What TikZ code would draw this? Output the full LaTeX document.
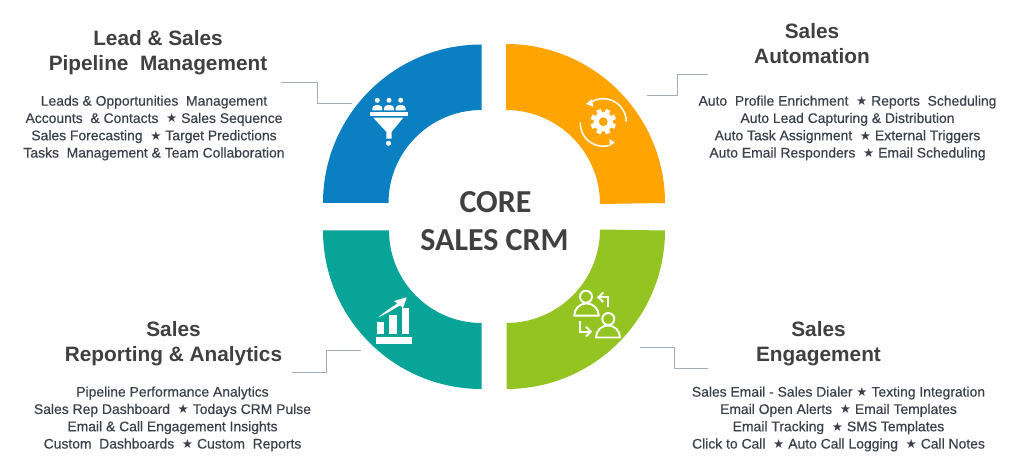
\documentclass[tikz,border=0pt]{standalone}
\usepackage{fontspec}
\setmainfont{Liberation Sans}
\newfontfamily\bodyfont{Liberation Sans}[FakeBold=0.4]
\newfontfamily\corefont{Carlito}
\newfontfamily\symfont{DejaVu Sans}
\definecolor{cblue}{HTML}{0A7FC2}
\definecolor{corange}{HTML}{FFA400}
\definecolor{cteal}{HTML}{09A498}
\definecolor{cgreen}{HTML}{93C422}
\definecolor{ctext}{HTML}{404040}
\definecolor{cbody}{HTML}{3A3F4A}
\definecolor{cline}{HTML}{A3ABB8}
\newcommand{\st}{{\symfont\fontsize{12.5}{12}\selectfont ★}}
\tikzset{
  x=1pt,y=1pt,
  seg/.style={fill=#1,draw=none},
  heading/.style={align=center,text=ctext,font=\fontsize{20.8}{25}\selectfont\bfseries,inner sep=0pt},
  bodytext/.style={align=center,text=cbody,font=\bodyfont\fontsize{13.9}{17.3}\selectfont,inner sep=0pt},
  coretext/.style={align=center,text=ctext,font=\corefont\fontsize{32}{38}\selectfont\bfseries,inner sep=0pt},
  leader/.style={draw=cline,line width=1pt},
  ic/.style={draw=white,line width=1.9pt},
  icf/.style={fill=white,draw=none},
}
\begin{document}
\begin{tikzpicture}
\useasboundingbox (0,0) rectangle (1017,474);
\fill[white] (0,0) rectangle (1017,474);
% ring segments
\fill[seg=cblue] (323,271) arc[start angle=180,end angle=90,radius=158.5] -- (481.5,364) arc[start angle=90,end angle=180,radius=93] -- cycle;
\fill[seg=corange] (665,271) arc[start angle=0,end angle=90,radius=159] -- (506,364) arc[start angle=90,end angle=0,radius=94] -- cycle;
\fill[seg=cteal] (323,243.5) arc[start angle=180,end angle=270,radius=158.5] -- (481.5,151) arc[start angle=270,end angle=180,radius=92.5] -- cycle;
\fill[seg=cgreen] (665,243.5) arc[start angle=0,end angle=-90,radius=158.5] -- (506.5,151) arc[start angle=-90,end angle=0,radius=93.5] -- cycle;
% leaders
\coordinate (la) at (281,391);\coordinate (lb) at (317,391);\coordinate (lc) at (317,370);\coordinate (ld) at (352,370);
\draw[leader] (la) -- (lb) -- (lc) -- (ld);
\coordinate (ra) at (708,399);\coordinate (rb) at (677.5,399);\coordinate (rc) at (677.5,378);\coordinate (rd) at (647,378);
\draw[leader] (ra) -- (rb) -- (rc) -- (rd);
\coordinate (ta) at (360.5,123);\coordinate (tb) at (326.5,123);\coordinate (tc) at (326.5,101);\coordinate (td) at (292,101);
\draw[leader] (ta) -- (tb) -- (tc) -- (td);
\coordinate (ga) at (640,126);\coordinate (gb) at (674,126);\coordinate (gc) at (674,105);\coordinate (gd) at (708,105);
\draw[leader] (ga) -- (gb) -- (gc) -- (gd);
% centre
\node[coretext] (core) at (495.5,272) {CORE};
\node[coretext] (crm) at (494.5,234) {SALES CRM};
% headings
\node[heading] (h1) at (158,421.5) {Lead \& Sales\\Pipeline\ \ Management};
\node[heading] (h2) at (812,430.5) {Sales\\Automation};
\node[heading] (h3) at (173.5,130.5) {Sales\\Reporting \& Analytics};
\node[heading] (h4) at (818.5,130.5) {Sales\\Engagement};
% body
\node[bodytext] (b1) at (154,346) {Leads \& Opportunities\ \ Management\\Accounts\ \ \& Contacts\ \ \st\ Sales Sequence\\Sales Forecasting\ \ \st\ Target Predictions\\Tasks\ \ Management \& Team Collaboration};
\node[bodytext] (b2) at (847.5,346) {Auto\ \ Profile Enrichment\ \ \st\ Reports\ \ Scheduling\\Auto Lead Capturing \& Distribution\\Auto Task Assignment\ \ \st\ External Triggers\\Auto Email Responders\ \ \st\ Email Scheduling};
\node[bodytext] (b3) at (172.5,55) {Pipeline Performance Analytics\\Sales Rep Dashboard\ \ \st\ Todays CRM Pulse\\Email \& Call Engagement Insights\\Custom\ \ Dashboards\ \ \st\ Custom\ \ Reports};
\node[bodytext] (b4) at (838.5,55) {Sales Email - Sales Dialer \st\ Texting Integration\\Email Open Alerts\ \ \st\ Email Templates\\Email Tracking\ \ \st\ SMS Templates\\Click to Call\ \ \st\ Auto Call Logging\ \ \st\ Call Notes};
% icons, written in the picture's pixels from its top-left corner
\begin{scope}[shift={(0,474)},yscale=-1]
% funnel
\foreach \px in {377.3,389,400.7}{
  \fill[icf] (\px,100.3) circle (2.5);
  \fill[icf] (\px-5,110.3) -- (\px-5,108.5) arc[start angle=180,end angle=270,radius=3.3] -- ++(3.4,0) arc[start angle=270,end angle=360,radius=3.3] -- (\px+5,110.3) -- cycle;
}
\fill[icf] (370,112.2) rectangle (407.7,115.8);
\fill[icf] (373.3,117.7) -- (403.3,117.7) -- (391.7,131.7) -- (391.7,138.7) -- (386.3,138.7) -- (386.3,131.7) -- cycle;
\fill[icf] (388.5,143.3) circle (2.6);
% gear and arrows
\begin{scope}[shift={(603.3,121.7)}]
\foreach \a in {0,45,...,315}{
  \fill[icf,rotate=\a+22.5] (-2.4,8) rectangle (2.4,12.8);
}
\fill[icf] (0,0) circle (9.8);
\fill[corange] (0,0) circle (4.4);
\draw[ic,line width=1.5pt] (23,0) arc[start angle=0,end angle=-120,radius=23];
\draw[ic,line width=1.5pt] (-23,0.8) arc[start angle=-178,end angle=-287,radius=23];
\fill[icf] (-17.3,-17.7) -- (-11.6,-22.4) -- (-10,-15) -- cycle;
\fill[icf] (11.7,21) -- (6,17.3) -- (6.7,23.6) -- cycle;
\end{scope}
% chart
\fill[icf] (376.7,321.7) rectangle (384,334);
\fill[icf] (389,315) rectangle (396.7,334);
\fill[icf] (402,308) rectangle (409.3,334);
\fill[icf] (376.3,336.7) rectangle (411.7,344.3);
\fill[icf] (378,317.5) .. controls (387,310) and (392,307) .. (397.5,303.5) -- (394,301) -- (406.7,297.3) -- (403,308) -- (400,305.5) .. controls (392,310) and (386,314) .. (378,317.5) -- cycle;
% people
\draw[ic] (586,296.7) circle (6);
\draw[ic,line join=round] (574.2,315.7) arc[start angle=180,end angle=360,radius=12.3] -- cycle;
\draw[ic] (608.3,319) circle (6);
\draw[ic,line join=round] (596,337.5) arc[start angle=180,end angle=360,radius=12] -- cycle;
\draw[ic] (608.3,307.3) -- (608.3,297.3) -- (598.3,297.3);
\draw[ic] (603.3,292.5) -- (598.3,297.3) -- (603.3,302);
\draw[ic] (580,320.7) -- (580,331.7) -- (590.7,331.7);
\draw[ic] (586,326.7) -- (590.7,331.7) -- (586,336.5);
\end{scope}
\end{tikzpicture}
\end{document}
